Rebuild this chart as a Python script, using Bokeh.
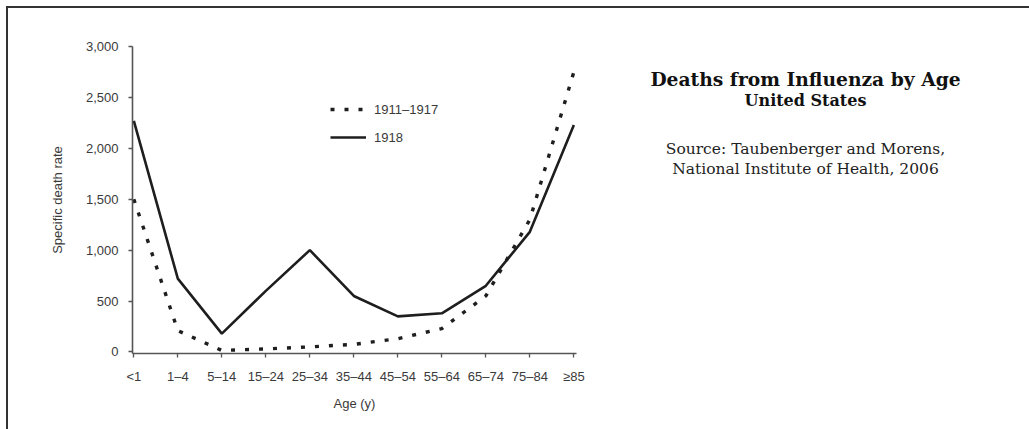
from bokeh.plotting import figure
from bokeh.layouts import row
from bokeh.models import (Range1d, FixedTicker, NumeralTickFormatter, Legend, LegendItem)
from bokeh.core.properties import value
from bokeh.embed import file_html
from bokeh.resources import INLINE

# ---- data ----
age_groups = ["<1", "1–4", "5–14", "15–24", "25–34", "35–44", "45–54", "55–64", "65–74", "75–84", "≥85"]
rate_1911_1917 = [1500, 210, 15, 30, 50, 75, 130, 230, 550, 1300, 2750]
rate_1918 = [2270, 720, 180, 600, 1000, 550, 350, 380, 650, 1180, 2230]
y_ticks = [0, 500, 1000, 1500, 2000, 2500, 3000]

title_lines = ["Deaths from Influenza by Age", "United States"]
source_lines = ["Source: Taubenberger and Morens,", "National Institute of Health, 2006"]

xs = list(range(len(age_groups)))
H = 421
TOP, BOTTOM = 38, 76

p = figure(width=588, height=H, output_backend="svg", toolbar_location=None,
           x_range=Range1d(-0.03, 10.06), y_range=Range1d(-15, 3000),
           min_border_left=124, min_border_right=20, min_border_top=TOP, min_border_bottom=BOTTOM)
p.outline_line_color = None
p.grid.visible = False
p.background_fill_color = "white"
p.border_fill_color = "white"

r_old = p.line(xs, rate_1911_1917, line_color="#1e1e1e", line_width=3.4, line_dash="4 10")
r_new = p.line(xs, rate_1918, line_color="#1e1e1e", line_width=2.6)

axis_color = "#555555"
text_color = "#3a3a3a"
for ax in (p.xaxis[0], p.yaxis[0]):
    ax.axis_line_color = axis_color
    ax.axis_line_width = 1.6
    ax.major_tick_line_color = axis_color
    ax.major_tick_line_width = 1.3
    ax.major_tick_out = 4
    ax.major_tick_in = 0
    ax.minor_tick_line_color = None
    ax.major_label_text_font = "Liberation Sans"
    ax.major_label_text_font_size = "13px"
    ax.major_label_text_color = text_color
    ax.axis_label_text_font = "Liberation Sans"
    ax.axis_label_text_font_size = "13px"
    ax.axis_label_text_font_style = "normal"
    ax.axis_label_text_color = text_color

p.xaxis.ticker = FixedTicker(ticks=xs)
p.xaxis.major_label_overrides = {i: lab for i, lab in enumerate(age_groups)}
p.xaxis.major_label_standoff = 11
p.xaxis.axis_label = "Age (y)"
p.xaxis.axis_label_standoff = 9

p.yaxis.ticker = FixedTicker(ticks=y_ticks)
p.yaxis.formatter = NumeralTickFormatter(format="0,0")
p.yaxis.major_label_standoff = 10
p.yaxis.axis_label = "Specific death rate"
p.yaxis.axis_label_standoff = 18

legend = Legend(items=[LegendItem(label="1911–1917", renderers=[r_old]),
                       LegendItem(label="1918", renderers=[r_new])],
                location=(198, 206), padding=0, margin=0, spacing=8,
                glyph_width=36, glyph_height=20, label_height=20, label_standoff=8,
                label_text_font="Liberation Sans", label_text_font_size="13px",
                label_text_color=text_color, border_line_color=None,
                background_fill_alpha=0)
p.add_layout(legend)

# ---- text panel on the right (frame aligned with the chart frame; y in canvas pixels) ----
t = figure(width=433, height=H, output_backend="svg", toolbar_location=None,
           x_range=Range1d(0, 433), y_range=Range1d(H - BOTTOM, TOP),
           min_border_left=0, min_border_right=0, min_border_top=TOP, min_border_bottom=BOTTOM,
           outline_line_color=None)
t.axis.visible = False
t.grid.visible = False

t.text(x=[209], y=[70], text=[title_lines[0]], text_align="center", text_baseline="middle",
       text_font=value("DejaVu Serif"), text_font_size="18.7px", text_font_style="bold",
       text_color="#111111")
t.text(x=[209], y=[92], text=[title_lines[1]], text_align="center", text_baseline="middle",
       text_font=value("DejaVu Serif"), text_font_size="16px", text_font_style="bold",
       text_color="#111111")
t.text(x=[209, 209], y=[140, 160], text=source_lines, text_align="center", text_baseline="middle",
       text_font=value("DejaVu Serif"), text_font_size="15.5px", text_font_style="normal",
       text_color="#222222")

layout = row(p, t, spacing=0)
layout.styles = {"border-top": "2px solid #333", "border-left": "2px solid #333",
                 "margin-top": "6px", "margin-left": "6px"}

open("out.html", "w").write(file_html(layout, INLINE))
